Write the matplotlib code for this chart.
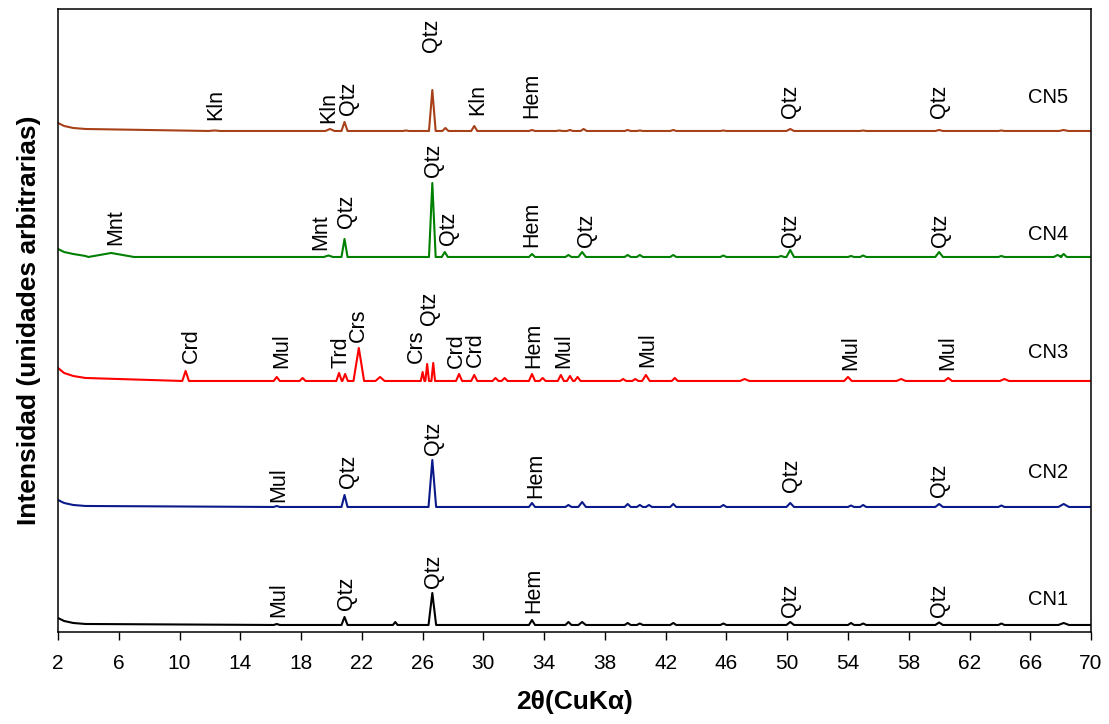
import matplotlib.pyplot as plt

plt.rcParams['font.family'] = ['Liberation Sans', 'DejaVu Sans']

# x axis (2-theta, degrees)
xticks = list(range(2, 71, 4))

samples = ['CN1', 'CN2', 'CN3', 'CN4', 'CN5']
colors = ['#000000', '#0b1a8a', '#ff0000', '#008000', '#a8401a']

# background level of each stacked pattern (arbitrary units)
levels = [7, 125, 251, 375, 501]

# low-angle rise of the background
low_x = [2.0, 2.4, 3.0, 3.8]
cn1_low = [14, 11, 9, 8]
cn2_low = [132, 129, 127, 126]
cn3_low = [264, 259, 256, 254]
cn4_low = [383, 380, 378, 376]
cn5_low = [509, 506, 504, 503]

# reflections: (2-theta, intensity at top, half width)
cn1_peaks = [(16.4, 8, 0.2), (20.86, 15, 0.2), (24.2, 10, 0.15), (26.64, 39, 0.25),
             (33.2, 12, 0.2), (35.6, 10, 0.2), (36.5, 10, 0.25), (39.5, 9, 0.2),
             (40.3, 8.5, 0.2), (42.5, 9, 0.2), (45.8, 8.5, 0.2), (50.2, 10, 0.25),
             (54.2, 9, 0.2), (55.0, 8.5, 0.2), (60.0, 9.5, 0.25), (64.1, 8.5, 0.2),
             (68.2, 9, 0.35)]
cn2_peaks = [(16.4, 126, 0.2), (20.86, 137, 0.2), (26.64, 172, 0.25), (33.2, 129, 0.2),
             (35.6, 127, 0.2), (36.5, 130, 0.25), (39.5, 128, 0.2), (40.3, 127, 0.2),
             (40.9, 127, 0.2), (42.5, 128, 0.2), (45.8, 127, 0.2), (50.2, 129, 0.25),
             (54.2, 126.5, 0.2), (55.0, 127, 0.2), (60.0, 128, 0.25), (64.1, 126.5, 0.2),
             (68.2, 128, 0.35)]
cn3_peaks = [(10.4, 261, 0.22), (16.4, 255, 0.2), (18.1, 254, 0.2), (20.5, 259, 0.18),
             (20.9, 258, 0.18), (21.8, 284, 0.35), (23.2, 255, 0.3), (26.0, 260, 0.12),
             (26.3, 268, 0.12), (26.7, 269, 0.12), (28.4, 258, 0.2), (29.4, 257, 0.2),
             (30.8, 254, 0.2), (31.4, 254, 0.2), (33.2, 258, 0.2), (33.9, 254, 0.2),
             (35.1, 257, 0.2), (35.7, 256, 0.2), (36.2, 255, 0.2), (39.2, 253, 0.2),
             (40.0, 253, 0.2), (40.7, 257, 0.25), (42.6, 254, 0.2), (47.2, 253, 0.3),
             (54.0, 255, 0.25), (57.5, 253, 0.3), (60.6, 254, 0.25), (64.3, 253, 0.3)]
cn4_peaks = [(5.5, 379, 1.5), (19.8, 376.5, 0.3), (20.86, 393, 0.2), (26.64, 449, 0.22),
             (27.46, 380, 0.2), (33.2, 378, 0.2), (35.6, 377, 0.2), (36.5, 380, 0.25),
             (39.5, 377, 0.2), (40.3, 377, 0.2), (42.5, 377, 0.2), (45.8, 376.5, 0.2),
             (49.6, 376, 0.2), (50.2, 382, 0.25), (54.2, 376, 0.2), (55.0, 376.5, 0.2),
             (60.0, 380, 0.25), (64.1, 376, 0.2), (67.8, 377, 0.25), (68.2, 378, 0.2)]
cn5_peaks = [(12.3, 501.5, 0.4), (19.9, 503, 0.3), (20.86, 510, 0.2), (24.9, 501.5, 0.2),
             (26.64, 542, 0.22), (27.5, 504, 0.2), (29.4, 506, 0.2), (33.2, 502, 0.2),
             (35.0, 501.5, 0.2), (35.7, 502, 0.2), (36.6, 503, 0.2), (39.5, 502, 0.2),
             (40.3, 501.5, 0.2), (42.5, 502, 0.2), (45.8, 501.5, 0.2), (50.2, 503, 0.25),
             (55.0, 501.5, 0.2), (60.0, 502, 0.25), (64.1, 501.5, 0.2), (68.2, 502, 0.3)]

# phase labels: (text, 2-theta, bottom of label)
cn1_labels = [('Mul', 16.55, 15), ('Qtz', 20.96, 22), ('Qtz', 26.75, 44), ('Hem', 33.3, 19),
              ('Qtz', 50.2, 15), ('Qtz', 60.0, 15)]
cn2_labels = [('Mul', 16.55, 130), ('Qtz', 21.1, 144), ('Qtz', 26.75, 177), ('Hem', 33.45, 134),
              ('Qtz', 50.3, 140), ('Qtz', 60.0, 135)]
cn3_labels = [('Crd', 10.76, 269), ('Mul', 16.75, 264), ('Trd', 20.6, 264), ('Crs', 21.8, 290),
              ('Crs', 25.6, 269), ('Qtz', 26.45, 307), ('Crd', 28.2, 264), ('Crd', 29.5, 265),
              ('Hem', 33.3, 264), ('Mul', 35.3, 264), ('Mul', 40.8, 265), ('Mul', 54.2, 262),
              ('Mul', 60.6, 262)]
cn4_labels = [('Mnt', 5.82, 387), ('Mnt', 19.3, 382), ('Qtz', 20.96, 404), ('Qtz', 26.7, 455),
              ('Qtz', 27.7, 387), ('Hem', 33.2, 385), ('Qtz', 36.76, 385), ('Qtz', 50.2, 385),
              ('Qtz', 60.1, 385)]
cn5_labels = [('Kln', 12.4, 512), ('Kln', 19.8, 509), ('Qtz', 21.12, 517), ('Qtz', 26.6, 580),
              ('Kln', 29.6, 517), ('Hem', 33.2, 514), ('Qtz', 50.2, 514), ('Qtz', 60.0, 514)]

# sample name positions (vertical centre)
name_y = [32, 159, 279, 397, 534]


def pattern(low, peaks, level):
    xs = list(low_x)
    ys = list(low)
    for pos, top, hw in peaks:
        xs += [pos - hw, pos, pos + hw]
        ys += [level, top, level]
    xs.append(70)
    ys.append(level)
    return xs, ys


fig = plt.figure(figsize=(11.09, 7.24), dpi=100)
ax = fig.add_axes([0.0523, 0.1271, 0.9315, 0.8605])

lows = [cn1_low, cn2_low, cn3_low, cn4_low, cn5_low]
peaks = [cn1_peaks, cn2_peaks, cn3_peaks, cn4_peaks, cn5_peaks]
labels = [cn1_labels, cn2_labels, cn3_labels, cn4_labels, cn5_labels]

for i, name in enumerate(samples):
    xs, ys = pattern(lows[i], peaks[i], levels[i])
    ax.plot(xs, ys, color=colors[i], lw=1.5, solid_joinstyle='round')
    for txt, x, y in labels[i]:
        ax.text(x, y, txt, rotation=90, ha='center', va='bottom', fontsize=15.5)
    ax.text(67.2, name_y[i], name, ha='center', va='center', fontsize=14.5)

ax.set_xlim(2, 70)
ax.set_ylim(0, 623)
ax.set_xticks(xticks)
ax.set_yticks([])
ax.tick_params(axis='x', direction='out', length=6, width=1, pad=10, labelsize=15)
for s in ax.spines.values():
    s.set_linewidth(1.1)

ax.set_xlabel('2\u03b8(CuK\u03b1)', fontsize=19, fontweight='bold', labelpad=12)
ax.set_ylabel('Intensidad (unidades arbitrarias)', fontsize=19, fontweight='bold', labelpad=12)

fig.savefig('out.png', dpi=100)
